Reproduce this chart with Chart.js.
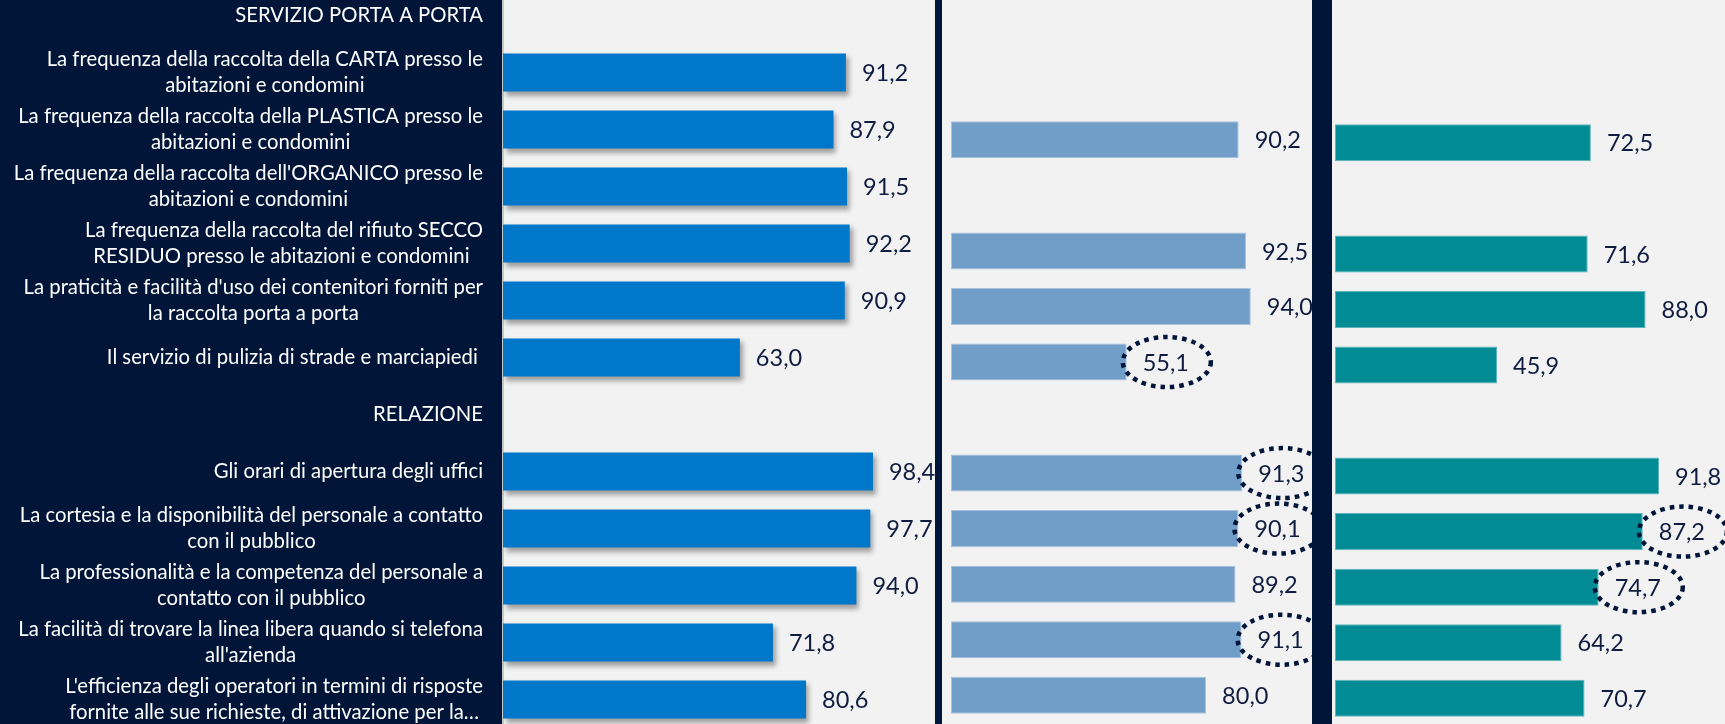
<!DOCTYPE html>
<html>
<head>
<meta charset="utf-8">
<script src="https://cdn.jsdelivr.net/npm/chart.js@4.4.1/dist/chart.umd.min.js"></script>
<style>
  html, body { margin: 0; padding: 0; background: #011538; width: 1725px; height: 724px; overflow: hidden; }
  .panel { position: absolute; top: 0; height: 724px; overflow: hidden; }
  .panel canvas { position: absolute; left: 0; }
  #p1 { left: 0; width: 935px; background: linear-gradient(to right, #011538 0, #011538 503px, #f2f2f2 503px); }
  #p1 canvas { top: -13px; }
  #p2 { left: 942px; width: 370px; background: #f2f2f2; }
  #p2 canvas { top: 1px; }
  #p3 { left: 1332px; width: 393px; background: #f2f2f2; }
  #p3 canvas { top: 4px; }
</style>
</head>
<body>
<div class="panel" id="p1"><canvas id="c1" width="935" height="741"></canvas></div>
<div class="panel" id="p2"><canvas id="c2" width="370" height="722"></canvas></div>
<div class="panel" id="p3"><canvas id="c3" width="393" height="722"></canvas></div>
<script>
(function () {
  var categories = [
    'SERVIZIO PORTA A PORTA',
    ['La frequenza della raccolta della CARTA presso le', 'abitazioni e condomini'],
    ['La frequenza della raccolta della PLASTICA presso le', 'abitazioni e condomini'],
    ["La frequenza della raccolta dell'ORGANICO presso le", 'abitazioni e condomini'],
    ['La frequenza della raccolta del rifiuto SECCO', 'RESIDUO presso le abitazioni e condomini '],
    ["La praticità e facilità d'uso dei contenitori forniti per", 'la raccolta porta a porta'],
    'Il servizio di pulizia di strade e marciapiedi ',
    'RELAZIONE',
    'Gli orari di apertura degli uffici',
    ['La cortesia e la disponibilità del personale a contatto', 'con il pubblico'],
    ['La professionalità e la competenza del personale a', 'contatto con il pubblico'],
    ['La facilità di trovare la linea libera quando si telefona', "all'azienda"],
    ["L'efficienza degli operatori in termini di risposte", 'fornite alle sue richieste, di attivazione per la…']
  ];
  var values1 = [null, 91.2, 87.9, 91.5, 92.2, 90.9, 63.0, null, 98.4, 97.7, 94.0, 71.8, 80.6];
  var values2 = [null, null, 90.2, null, 92.5, 94.0, 55.1, null, 91.3, 90.1, 89.2, 91.1, 80.0];
  var values3 = [null, null, 72.5, null, 71.6, 88.0, 45.9, null, 91.8, 87.2, 74.7, 64.2, 70.7];
  var circled2 = [6, 8, 9, 11];
  var circled3 = [9, 10];

  var NAVY = '#011538';
  var LABEL_FONT = '20.3px Lato';
  var VALUE_FONT = '23.5px Lato';

  function fmt(v) {
    return v.toFixed(1).replace('.', ',');
  }

  // value labels to the right of each bar, with dotted ellipses on highlighted ones
  function valueLabels(circled) {
    return {
      id: 'valueLabels',
      afterDatasetsDraw: function (chart) {
        var ctx = chart.ctx;
        var meta = chart.getDatasetMeta(0);
        var data = chart.data.datasets[0].data;
        ctx.save();
        ctx.font = VALUE_FONT;
        ctx.fillStyle = '#0f1c3f';
        ctx.textAlign = 'left';
        ctx.textBaseline = 'middle';
        meta.data.forEach(function (bar, i) {
          if (data[i] === null) return;
          var txt = fmt(data[i]);
          var x = bar.x + 16;
          ctx.fillText(txt, x, bar.y + 1);
          if (circled.indexOf(i) !== -1) {
            var w = ctx.measureText(txt).width;
            ctx.save();
            ctx.strokeStyle = NAVY;
            ctx.lineWidth = 4.5;
            ctx.setLineDash([4.5, 5]);
            ctx.beginPath();
            ctx.ellipse(x + w / 2 + 1, bar.y, 44, 25, 0, 0, Math.PI * 2);
            ctx.stroke();
            ctx.restore();
          }
        });
        ctx.restore();
      }
    };
  }

  // category labels: lines centred on each other, block right aligned
  var categoryLabels = {
    id: 'categoryLabels',
    afterDraw: function (chart) {
      var ctx = chart.ctx;
      var yScale = chart.scales.y;
      var right = 483;
      ctx.save();
      ctx.font = LABEL_FONT;
      ctx.fillStyle = '#ffffff';
      ctx.textAlign = 'center';
      ctx.textBaseline = 'middle';
      categories.forEach(function (label, i) {
        var lines = Array.isArray(label) ? label : [label];
        var maxW = 0;
        lines.forEach(function (l) { maxW = Math.max(maxW, ctx.measureText(l).width); });
        var y = yScale.getPixelForValue(i);
        var top = y - (lines.length - 1) * 13;
        lines.forEach(function (l, k) {
          ctx.fillText(l, right - maxW / 2, top + k * 26);
        });
      });
      ctx.restore();
    }
  };

  var barShadow = {
    id: 'barShadow',
    beforeDatasetDraw: function (chart) {
      var ctx = chart.ctx;
      ctx.save();
      ctx.shadowColor = 'rgba(0, 0, 0, 0.35)';
      ctx.shadowBlur = 5;
      ctx.shadowOffsetX = 3;
      ctx.shadowOffsetY = 4;
    },
    afterDatasetDraw: function (chart) {
      chart.ctx.restore();
    }
  };

  function makeChart(id, values, opts) {
    return new Chart(document.getElementById(id), {
      type: 'bar',
      data: {
        labels: categories,
        datasets: [{
          data: values,
          backgroundColor: opts.color,
          borderColor: opts.border || opts.color,
          borderWidth: opts.border ? 1 : 0,
          borderSkipped: false,
          barPercentage: 0.667,
          categoryPercentage: 1
        }]
      },
      options: {
        indexAxis: 'y',
        responsive: false,
        animation: false,
        devicePixelRatio: 1,
        layout: { padding: { left: opts.padLeft || 0, right: 0, top: 0, bottom: 0 } },
        plugins: { legend: { display: false }, tooltip: { enabled: false } },
        scales: {
          x: { display: false, min: 0, max: opts.max },
          y: {
            display: opts.axis ? true : false,
            ticks: { display: false },
            grid: { display: false, drawTicks: false },
            border: { display: !!opts.axis, color: '#c8c8c8', width: 2 },
            afterFit: function (scale) { if (opts.axis) scale.width = 503; }
          }
        }
      },
      plugins: opts.plugins
    });
  }

  makeChart('c1', values1, {
    color: '#0077c8', max: 114.9, axis: true,
    plugins: [barShadow, valueLabels([]), categoryLabels]
  });
  makeChart('c2', values2, {
    color: '#709ec8', border: '#a7c3de', max: 113.2, padLeft: 9,
    plugins: [valueLabels(circled2)]
  });
  makeChart('c3', values3, {
    color: '#008b95', border: '#5db4bb', max: 110.5, padLeft: 3,
    plugins: [valueLabels(circled3)]
  });
})();
</script>
</body>
</html>
